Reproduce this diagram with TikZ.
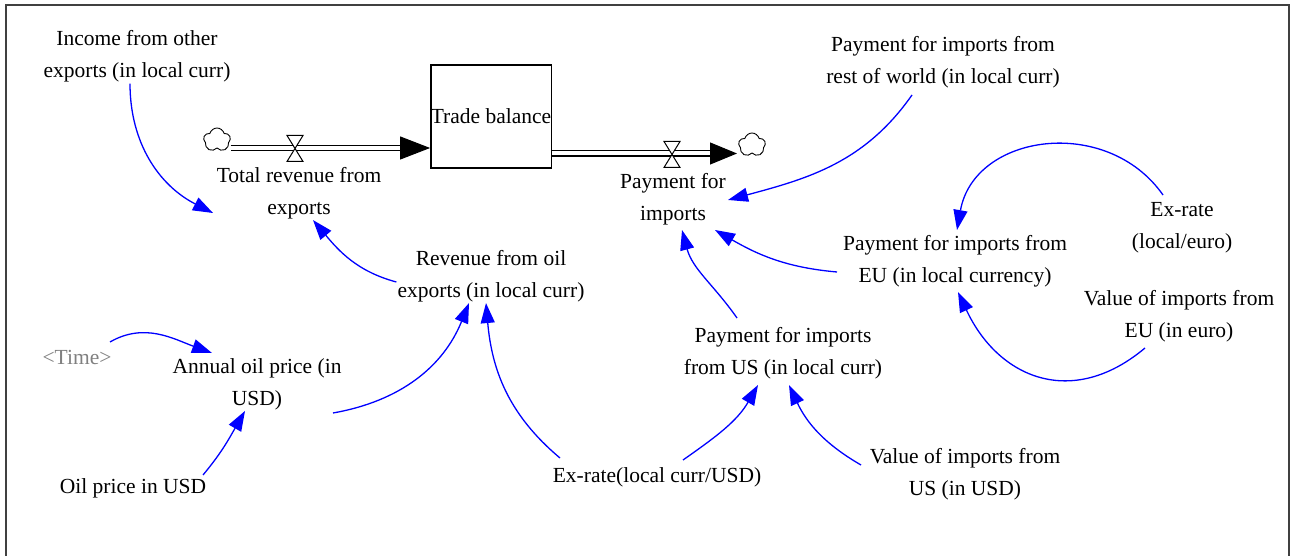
\documentclass[tikz,border=0pt]{standalone}
\usepackage{fontspec}
\setmainfont{Liberation Serif}
\usetikzlibrary{arrows.meta, shapes.symbols}

\begin{document}
\begin{tikzpicture}[x=1pt, y=1pt, >={Triangle[length=20pt,width=14pt]},
    var/.style={align=center, inner sep=1pt, font=\fontsize{21.5}{32}\selectfont},
    link/.style={->, blue, line width=1.3pt},
    pipe/.style={draw, double, double distance=4pt, line width=1.4pt},
    stock/.style={draw, line width=1.4pt, minimum width=120pt, minimum height=103pt, inner sep=0pt, font=\fontsize{21.5}{32}\selectfont},
    source/.style={cloud, cloud puffs=5, aspect=1.1, draw, line width=0.9pt, minimum width=27pt, minimum height=24pt, inner sep=0pt}]

    \useasboundingbox (0,0) rectangle (1295,556);
    \draw[line width=2pt, black!75] (6,0) -- (6,551) -- (1289,551) -- (1289,0);

    %define stock and flows
    \node[stock] (tb) at (491,439.5) {Trade balance};
    \node[source] (cloud1) at (217,416) {};
    \node[source] (cloud2) at (752,411) {};
    \coordinate (valve1) at (295,407.5);
    \coordinate (valve2) at (672,401.5);
    \coordinate (tip1) at ([yshift=-31.5pt]tb.west);
    \coordinate (tip2) at (737,402.5);

    \draw[pipe] (cloud1.east |- tip1) -- ([xshift=-28pt]tip1);
    \draw[-{Triangle[length=30pt,width=23pt]}, line width=1pt] ([xshift=-30pt]tip1) -- (tip1);
    \draw[pipe] ([yshift=-37pt]tb.east) -- ([xshift=-25pt]tip2);
    \draw[-{Triangle[length=27pt,width=22pt]}, line width=1pt] ([xshift=-27pt]tip2) -- (tip2);
    \foreach \v in {valve1, valve2}
        \draw[fill=white, line width=1pt] ([shift={(-8pt,13pt)}]\v) -- ++(16,0) -- ++(-16,-26) -- ++(16,0) -- cycle;

    %define variables
    \node[var] (inc) at (137,499.5) {Income from other\\exports (in local curr)};
    \node[var] (trev) at (299,363) {Total revenue from\\exports};
    \node[var] (pimp) at (673,357) {Payment for\\imports};
    \node[var] (prest) at (943,494) {Payment for imports from\\rest of world (in local curr)};
    \node[var] (exeuro) at (1182,328.5) {Ex-rate\\(local/euro)};
    \node[var] (peu) at (955,295) {Payment for imports from\\EU (in local currency)};
    \node[var] (veu) at (1179,240) {Value of imports from\\EU (in euro)};
    \node[var] (roil) at (491,280) {Revenue from oil\\exports (in local curr)};
    \node[var] (pus) at (783,203) {Payment for imports\\from US (in local curr)};
    \node[var, text=gray] (time) at (77,199) {<Time>};
    \node[var] (aoil) at (257,172) {Annual oil price (in\\USD)};
    \node[var] (oilusd) at (133,68) {Oil price in USD};
    \node[var] (exusd) at (657,79) {Ex-rate(local curr/USD)};
    \node[var] (vus) at (965,82) {Value of imports from\\US (in USD)};

    %define the links
    \path[link] ([xshift=-7pt]inc.south) edge[out=-90, in=153] ([shift={(-86pt,-20pt)}]trev.center)
                ([yshift=-6pt]roil.west) edge[out=165, in=-50] ([xshift=14pt]trev.south)
                ([shift={(76pt,-29pt)}]aoil.center) edge[out=10, in=-112] ([xshift=-22pt]roil.south)
                ([shift={(-97pt,19pt)}]exusd.center) edge[out=140, in=-85] ([xshift=-5pt]roil.south)
                ([shift={(70pt,13pt)}]oilusd.center) edge[out=50, in=-120] ([xshift=-12pt]aoil.south)
                ([shift={(33pt,15pt)}]time.center) edge[out=30, in=160] ([shift={(-45pt,31pt)}]aoil.center)
                ([shift={(26pt,17pt)}]exusd.center) edge[out=35, in=-120] ([shift={(-25pt,-32pt)}]pus.center)
                ([shift={(-104pt,9pt)}]vus.center) edge[out=150, in=-65] ([shift={(6pt,-32pt)}]pus.center)
                ([shift={(-46pt,35pt)}]pus.center) edge[out=125, in=-75] ([shift={(9pt,-31pt)}]pimp.center)
                ([shift={(-118pt,-11pt)}]peu.center) edge[out=175, in=-30] ([shift={(42pt,-31pt)}]pimp.center)
                ([shift={(-31pt,-33pt)}]prest.center) edge[out=-125, in=15] ([shift={(55pt,-1pt)}]pimp.center)
                ([shift={(-19pt,32.5pt)}]exeuro.center) edge[out=125, in=80, looseness=1.2] ([shift={(2pt,31pt)}]peu.center)
                ([shift={(-34pt,-32pt)}]veu.center) edge[out=-140, in=-65, looseness=1.25] ([shift={(3pt,-31pt)}]peu.center);

\end{tikzpicture}
\end{document}
